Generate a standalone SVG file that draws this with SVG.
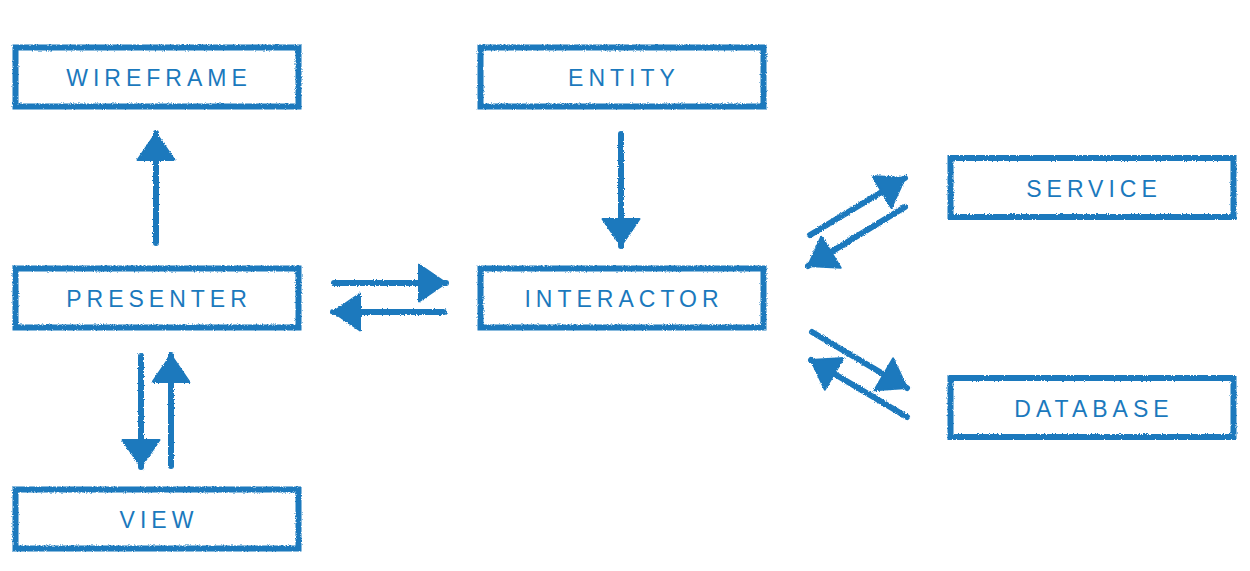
<svg xmlns="http://www.w3.org/2000/svg" width="1250" height="571" viewBox="0 0 1250 571">
<style>
.box{fill:none;stroke:#1b79bd;stroke-width:6;filter:url(#rough)}
.lbl{font-family:"Liberation Sans",Arial,sans-serif;font-size:23px;fill:#1b79bd;text-anchor:middle;letter-spacing:5px}
.ln{stroke:#1b79bd;stroke-width:6;fill:none;stroke-linecap:round;marker-end:url(#ah)}
</style>
<defs>
<filter id="rough" x="-5%" y="-5%" width="110%" height="110%">
<feTurbulence type="fractalNoise" baseFrequency="0.9" numOctaves="2" seed="3" result="n"/>
<feDisplacementMap in="SourceGraphic" in2="n" scale="3" xChannelSelector="R" yChannelSelector="G"/>
</filter>
<marker id="ah" viewBox="-2 -2 31 41" refX="27" refY="18.5" markerWidth="31" markerHeight="41" markerUnits="userSpaceOnUse" orient="auto">
<path d="M0,0 L27,18.5 L0,37 Z" fill="#1b79bd" stroke="#1b79bd" stroke-width="2" stroke-linejoin="round"/>
</marker>
</defs>
<rect width="1250" height="571" fill="#ffffff"/>
<g id="wireframe"><rect class="box" x="15.5" y="47.5" width="283" height="59"/><text class="lbl" x="159" y="86">WIREFRAME</text></g>
<g id="entity"><rect class="box" x="480.5" y="47.5" width="283" height="59"/><text class="lbl" x="624" y="86">ENTITY</text></g>
<g id="service"><rect class="box" x="950.5" y="158" width="283" height="59"/><text class="lbl" x="1094" y="196.5">SERVICE</text></g>
<g id="presenter"><rect class="box" x="15.5" y="268.5" width="283" height="59"/><text class="lbl" x="159" y="307">PRESENTER</text></g>
<g id="interactor"><rect class="box" x="480.5" y="268.5" width="283" height="59"/><text class="lbl" x="624" y="307">INTERACTOR</text></g>
<g id="database"><rect class="box" x="950.5" y="378" width="283" height="59"/><text class="lbl" x="1094" y="416.5">DATABASE</text></g>
<g id="view"><rect class="box" x="15.5" y="489.5" width="283" height="59"/><text class="lbl" x="159" y="528">VIEW</text></g>
<g id="connectors" filter="url(#rough)">
<line class="ln" x1="156" y1="243" x2="156" y2="133"/>
<line class="ln" x1="621" y1="134" x2="621" y2="246"/>
<line class="ln" x1="334" y1="283" x2="446" y2="283"/>
<line class="ln" x1="444" y1="312" x2="333" y2="312"/>
<line class="ln" x1="141" y1="356" x2="141" y2="467"/>
<line class="ln" x1="171" y1="466" x2="171" y2="355"/>
<line class="ln" x1="810" y1="235" x2="905" y2="178"/>
<line class="ln" x1="905" y1="207" x2="808" y2="266"/>
<line class="ln" x1="812" y1="332" x2="907" y2="388"/>
<line class="ln" x1="907" y1="417" x2="811" y2="360"/>
</g>
</svg>
